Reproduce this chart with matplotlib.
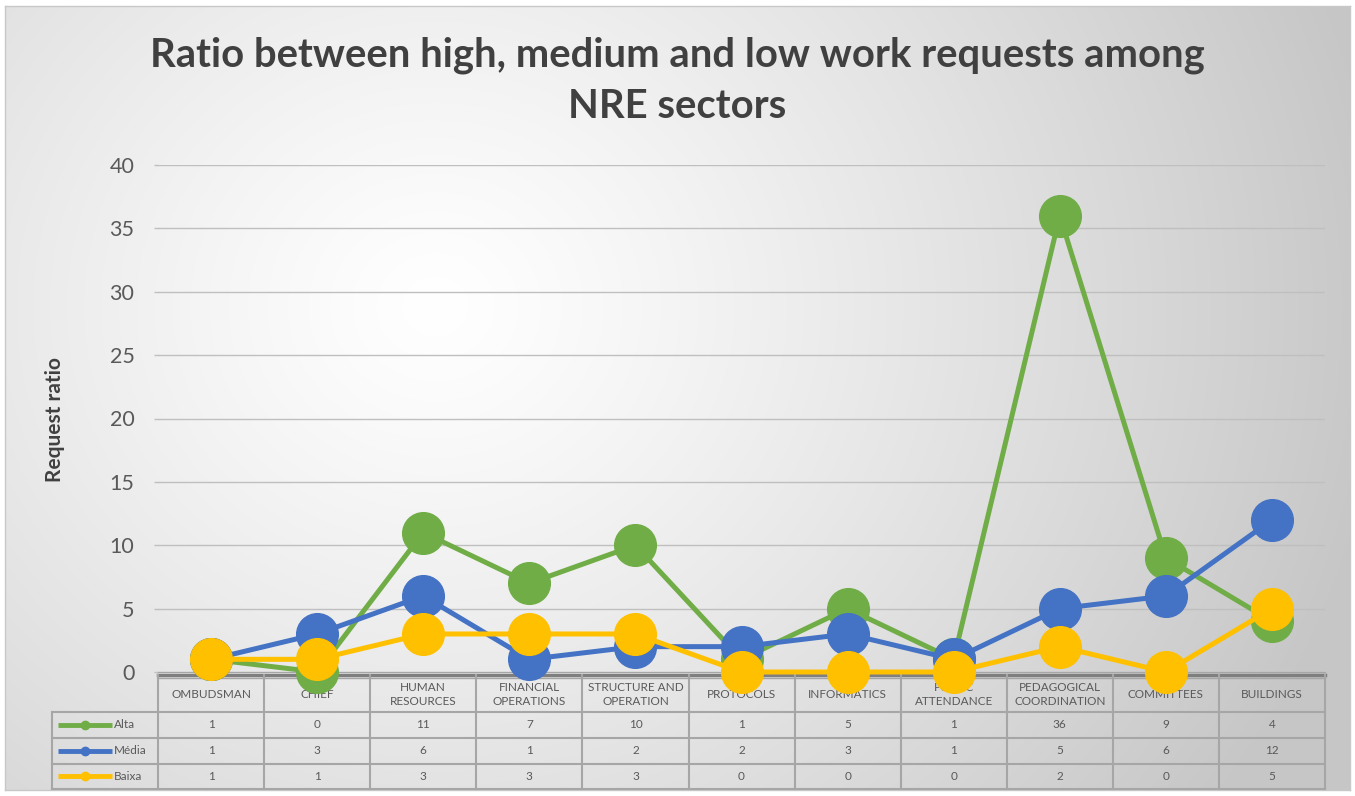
import matplotlib.pyplot as plt
import numpy as np

W, H = 1355, 796

sectors = ['OMBUDSMAN', 'CHIEF', 'HUMAN\nRESOURCES', 'FINANCIAL\nOPERATIONS',
           'STRUCTURE AND\nOPERATION', 'PROTOCOLS', 'INFORMATICS',
           'PUBLIC\nATTENDANCE', 'PEDAGOGICAL\nCOORDINATION', 'COMMITTEES',
           'BUILDINGS']
alta = [1, 0, 11, 7, 10, 1, 5, 1, 36, 9, 4]
media = [1, 3, 6, 1, 2, 2, 3, 1, 5, 6, 12]
baixa = [1, 1, 3, 3, 3, 0, 0, 0, 2, 0, 5]
series_names = ['Alta', 'Média', 'Baixa']
colors = ['#70AD47', '#4472C4', '#FFC000']

plt.rcParams['font.family'] = ['Lato', 'DejaVu Sans']
text_col = '#595959'


def px(x0, y0, x1, y1):
    # pixel box -> figure fraction rect
    return [x0 / W, 1 - y1 / H, (x1 - x0) / W, (y1 - y0) / H]


fig = plt.figure(figsize=(W / 100, H / 100), dpi=100)
fig.patch.set_facecolor('white')

# radial gradient background
bg = fig.add_axes(px(5, 6, 1350, 790))
yy, xx = np.mgrid[0:784, 0:1345]
d = np.sqrt(((xx - 430) / 1.0) ** 2 + ((yy - 300) / 0.9) ** 2)
v = 1.0 - 0.22 * np.clip(d / 950, 0, 1) ** 1.2
bg.imshow(np.dstack([v, v, v]), aspect='auto', interpolation='bilinear')
bg.set_xticks([])
bg.set_yticks([])
for s in bg.spines.values():
    s.set_color('#c8c8c8')
    s.set_linewidth(1)

# data table under the plot
n = len(sectors)
tab = fig.add_axes(px(52, 675, 1325, 789))
tab.set_xlim(-1.5, n - 0.5)
tab.set_ylim(114, 0)
tab.axis('off')
rows = [0, 37, 63, 88.5, 114]
grid_c = '#a6a6a6'
for r in rows[1:]:
    tab.plot([-1.5, n - 0.5], [r, r], color=grid_c, lw=1.5, clip_on=False)
tab.plot([-0.5, n - 0.5], [0, 0], color='#7f7f7f', lw=2.5, clip_on=False)
tab.plot([-0.5, n - 0.5], [3, 3], color='#a6a6a6', lw=1, clip_on=False)
tab.plot([-1.5, -1.5], [rows[1], rows[-1]], color=grid_c, lw=1.5, clip_on=False)
for i in range(n + 1):
    tab.plot([i - 0.5, i - 0.5], [0, rows[-1]], color=grid_c, lw=1.5, clip_on=False)
for i, name in enumerate(sectors):
    tab.text(i, (rows[0] + rows[1]) / 2 + 1, name, ha='center', va='center',
             fontsize=8.5, color=text_col, linespacing=1.35)
for k, vals in enumerate([alta, media, baixa]):
    yc = (rows[k + 1] + rows[k + 2]) / 2
    tab.plot([-1.445, -0.935], [yc, yc], color=colors[k], lw=3.5,
             solid_capstyle='butt')
    tab.plot([-1.19], [yc], 'o', color=colors[k], ms=6)
    tab.text(-0.92, yc, series_names[k], ha='left', va='center',
             fontsize=8.5, color=text_col)
    for i, val in enumerate(vals):
        tab.text(i, yc, str(val), ha='center', va='center',
                 fontsize=8.5, color=text_col)

# main line chart
ax = fig.add_axes(px(158, 165, 1325, 672))
ax.patch.set_alpha(0)
x = np.arange(n)
for k, vals in enumerate([alta, media, baixa]):
    ax.plot(x, vals, '-o', color=colors[k], lw=3.6, ms=30,
            markeredgecolor=colors[k], clip_on=False, zorder=3 + k)
ax.set_xlim(-0.5, n - 0.5)
ax.set_ylim(0, 40)
ax.set_yticks(np.arange(0, 41, 5))
ax.set_xticks([])
ax.grid(axis='y', color='#bfbfbf', lw=1)
ax.tick_params(axis='y', labelsize=15.5, colors=text_col, length=3,
               width=1, pad=14)
ax.tick_params(axis='y', color='#bfbfbf')
for s in ['top', 'right', 'left']:
    ax.spines[s].set_visible(False)
ax.spines['bottom'].set_color('#a6a6a6')

fig.text(55 / W, 1 - 420 / H, 'Request ratio', rotation=90, ha='center',
         va='center', fontsize=15, fontweight='bold', color='#404040')

fig.text(0.5, 1 - 81 / H, 'Ratio between high, medium and low work requests among\nNRE sectors',
         ha='center', va='center', fontsize=28.8, fontweight='bold',
         color='#404040', linespacing=1.45)

fig.savefig('out.png', dpi=100)
